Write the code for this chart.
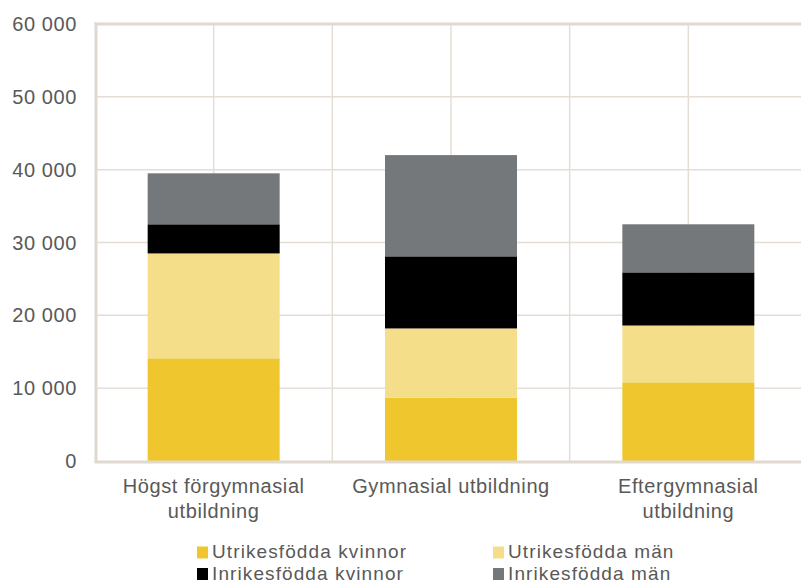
<!DOCTYPE html>
<html>
<head>
<meta charset="utf-8">
<script src="https://cdn.jsdelivr.net/npm/d3@7"></script>
<style>
  body { margin: 0; background: #fff; overflow: hidden; }
  text { font-family: 'Liberation Sans', Arial, sans-serif; fill: #595959; letter-spacing: 0.6px; }
  .legend text { letter-spacing: 1.1px; }
</style>
</head>
<body>
<div id="chart"></div>
<script>
const categories = [
  ['Högst förgymnasial', 'utbildning'],
  ['Gymnasial utbildning'],
  ['Eftergymnasial', 'utbildning']
]
const seriesNames = [
  'Utrikesfödda kvinnor',
  'Utrikesfödda män',
  'Inrikesfödda kvinnor',
  'Inrikesfödda män'
]
const utrikesKvinnor = [14100, 8700, 10800]
const utrikesMan = [14400, 9500, 7800]
const inrikesKvinnor = [4000, 9900, 7300]
const inrikesMan = [7000, 13900, 6600]
const yTicks = [0, 10000, 20000, 30000, 40000, 50000, 60000]

const colors = ['#f0c62f', '#f5de8a', '#000000', '#75787b']

const width = 801
const height = 583
const margin = { top: 24, left: 96, right: -10, bottom: 122 }

const svg = d3
  .select('#chart')
  .append('svg')
  .attr('width', width)
  .attr('height', height)

const keys = categories.map(c => c.join(' '))
const rows = keys.map((k, i) => ({
  cat: k,
  s0: utrikesKvinnor[i],
  s1: utrikesMan[i],
  s2: inrikesKvinnor[i],
  s3: inrikesMan[i]
}))

const xScale = d3
  .scaleBand()
  .domain(keys)
  .range([margin.left - 1, width - margin.right - 4])
  .paddingInner(0)

const yScale = d3
  .scaleLinear()
  .domain([0, 60000])
  .range([height - margin.bottom, margin.top])

const gridColor = '#e4ded6'

// horizontal grid
svg
  .selectAll('.hgrid')
  .data(yTicks.filter(d => d > 0 && d < 60000))
  .enter()
  .append('line')
  .attr('x1', margin.left)
  .attr('x2', width)
  .attr('y1', d => yScale(d))
  .attr('y2', d => yScale(d))
  .attr('stroke', gridColor)
  .attr('stroke-width', 1.5)

// vertical grid at band edges and centres
const vLines = []
keys.forEach(k => {
  vLines.push(xScale(k) + xScale.bandwidth() / 2)
  vLines.push(xScale(k) + xScale.bandwidth())
})
svg
  .selectAll('.vgrid')
  .data(vLines)
  .enter()
  .append('line')
  .attr('x1', d => d)
  .attr('x2', d => d)
  .attr('y1', yScale(60000))
  .attr('y2', yScale(0))
  .attr('stroke', gridColor)
  .attr('stroke-width', 1.5)

// stacked bars
const stack = d3.stack().keys(['s0', 's1', 's2', 's3'])
const stacked = stack(rows)
const barWidth = 132

svg
  .selectAll('.layer')
  .data(stacked)
  .enter()
  .append('g')
  .attr('fill', (d, i) => colors[i])
  .selectAll('rect')
  .data(d => d)
  .enter()
  .append('rect')
  .attr('x', d => xScale(d.data.cat) + xScale.bandwidth() / 2 - barWidth / 2)
  .attr('width', barWidth)
  .attr('y', d => yScale(d[1]))
  .attr('height', d => yScale(d[0]) - yScale(d[1]))

// frame: left, top, bottom
const frame = '#e0d9cf'
svg.append('line')
  .attr('x1', margin.left).attr('x2', margin.left)
  .attr('y1', yScale(60000) - 1.5).attr('y2', yScale(0) + 1.5)
  .attr('stroke', frame).attr('stroke-width', 3)
svg.append('line')
  .attr('x1', margin.left - 1.5).attr('x2', width)
  .attr('y1', yScale(60000)).attr('y2', yScale(60000))
  .attr('stroke', frame).attr('stroke-width', 3)
svg.append('line')
  .attr('x1', margin.left - 1.5).attr('x2', width)
  .attr('y1', yScale(0) + 1).attr('y2', yScale(0) + 1)
  .attr('stroke', frame).attr('stroke-width', 3)

// y labels
const fmt = d => d3.format(',')(d).replace(/,/g, ' ')
svg
  .selectAll('.ylabel')
  .data(yTicks)
  .enter()
  .append('text')
  .attr('x', 77)
  .attr('y', d => yScale(d))
  .attr('dy', '0.35em')
  .attr('text-anchor', 'end')
  .attr('font-size', 20)
  .text(d => fmt(d))

// x labels
categories.forEach((lines, i) => {
  const t = svg
    .append('text')
    .attr('text-anchor', 'middle')
    .attr('font-size', 20)
    .attr('transform', `translate(${xScale(keys[i]) + xScale.bandwidth() / 2}, 493)`)
  lines.forEach((l, j) => {
    t.append('tspan').attr('x', 0).attr('y', j * 25).text(l)
  })
})

// legend
const legendPos = [
  [197, 558],
  [493, 558],
  [197, 579.5],
  [493, 579.5]
]
const legend = svg
  .selectAll('.legend')
  .data(seriesNames)
  .enter()
  .append('g')
  .attr('class', 'legend')
  .attr('transform', (d, i) => `translate(${legendPos[i][0]}, ${legendPos[i][1]})`)
legend
  .append('rect')
  .attr('x', 0)
  .attr('y', -11.5)
  .attr('width', 11)
  .attr('height', 12)
  .attr('fill', (d, i) => colors[i])
legend
  .append('text')
  .attr('x', 15)
  .attr('y', 0)
  .attr('font-size', 19)
  .text(d => d)
</script>
</body>
</html>
